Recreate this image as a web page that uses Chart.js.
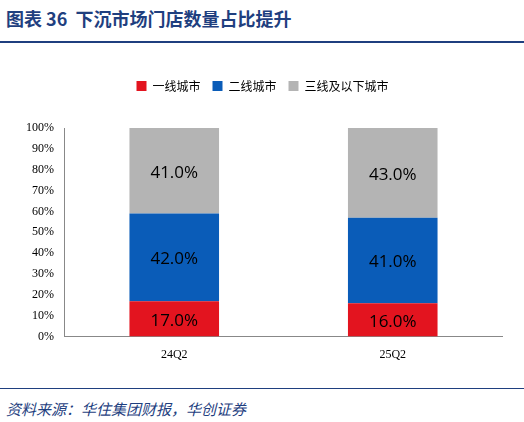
<!DOCTYPE html>
<html><head><meta charset="utf-8">
<script src="https://cdn.jsdelivr.net/npm/chart.js@4"></script>
<style>
body{margin:0;width:524px;height:422px;position:relative;background:#fff;font-family:"Noto Sans CJK SC",sans-serif;overflow:hidden}
#title{position:absolute;left:6px;top:5px;font-size:18px;font-weight:bold;color:#1F3F7F}
#tl{position:absolute;left:0;top:41px;width:524px;height:2px;background:#1F3F7F}
#bl{position:absolute;left:0;top:388px;width:524px;height:1px;background:#1F3F7F}
#foot{position:absolute;left:6px;top:398px;font-size:15px;font-style:italic;color:#1F3F7F}
#wrap{position:absolute;left:0;top:55px;width:524px;height:310px}
</style></head><body>
<div id="title">图表 36&nbsp;&nbsp;下沉市场门店数量占比提升</div>
<div id="tl"></div>
<div id="wrap"><canvas id="c"></canvas></div>
<div id="bl"></div>
<div id="foot">资料来源：华住集团财报，华创证券</div>
<script>
const categories = ["24Q2", "25Q2"];
const tier1 = [17, 16];
const tier2 = [42, 41];
const tier3 = [41, 43];

const labelPlugin = {
  id: "labels",
  afterDatasetsDraw(chart) {
    const ctx = chart.ctx;
    ctx.save();
    ctx.font = "17px 'Open Sans', sans-serif";
    ctx.fillStyle = "#000";
    ctx.textAlign = "center";
    ctx.textBaseline = "middle";
    chart.data.datasets.forEach((ds, i) => {
      chart.getDatasetMeta(i).data.forEach((bar, j) => {
        const y = (bar.y + bar.base) / 2;
        ctx.fillText(ds.data[j].toFixed(1) + "%", bar.x, y + 2);
      });
    });
    ctx.restore();
  }
};

const legendGap = {
  id: "legendGap",
  beforeInit(chart) {
    const orig = chart.legend.fit;
    chart.legend.fit = function () {
      orig.bind(chart.legend)();
      this.height += 26;
    };
  }
};

new Chart(document.getElementById("c"), {
  type: "bar",
  data: {
    labels: categories,
    datasets: [
      { label: "一线城市", data: tier1, backgroundColor: "#E3141F" },
      { label: "二线城市", data: tier2, backgroundColor: "#0A5CB8" },
      { label: "三线及以下城市", data: tier3, backgroundColor: "#B4B4B4" }
    ]
  },
  options: {
    responsive: true,
    maintainAspectRatio: false,
    animation: false,
    layout: { padding: { left: 23, right: 22, top: 13 } },
    datasets: { bar: { categoryPercentage: 0.41, barPercentage: 1 } },
    plugins: {
      legend: {
        labels: { boxWidth: 10, boxHeight: 10, font: { size: 12, family: "Noto Sans CJK SC" }, color: "#000", padding: 12 }
      },
      tooltip: { enabled: false }
    },
    scales: {
      x: {
        stacked: true,
        grid: { display: false },
        border: { color: "#888" },
        ticks: { color: "#000", font: { size: 12, family: "Liberation Serif" } }
      },
      y: {
        stacked: true, min: 0, max: 100,
        grid: { display: false },
        border: { color: "#888" },
        ticks: { stepSize: 10, color: "#000", font: { size: 12, family: "Liberation Serif" }, callback: v => v + "%" }
      }
    }
  },
  plugins: [labelPlugin, legendGap]
});
</script>
</body></html>
